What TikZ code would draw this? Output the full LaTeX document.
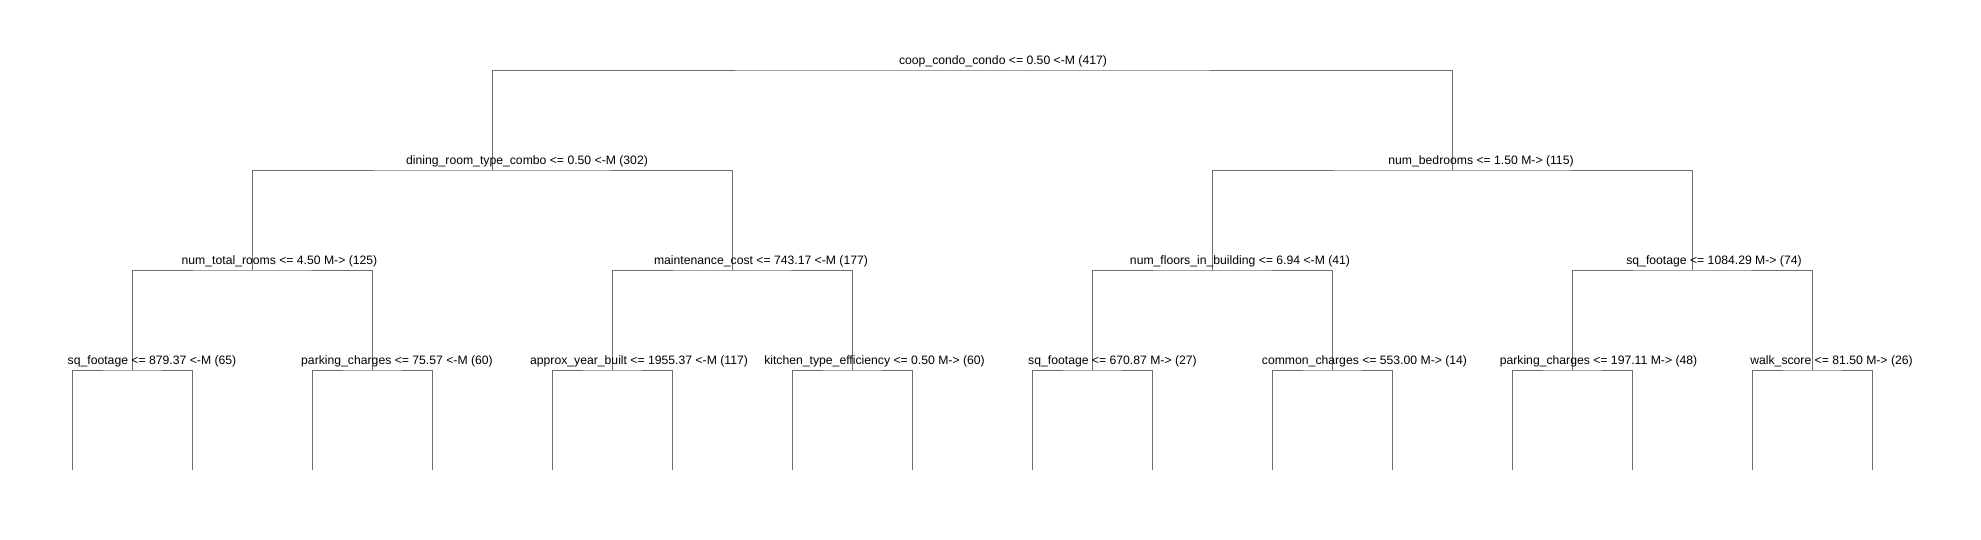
\documentclass[tikz,border=0pt]{standalone}
\usepackage{fontspec}
\setmainfont{Liberation Sans}
\usetikzlibrary{positioning}

\definecolor{branchgray}{RGB}{110,110,110}

\begin{document}
\begin{tikzpicture}[
  x=1pt, y=-1pt,
  splitlabel/.style={anchor=base, yshift=5.5pt, inner sep=0pt, font=\fontsize{12.2}{14}\selectfont},
  branch/.style={draw=branchgray, line width=0.9pt}
]
\useasboundingbox (0,0) rectangle (1981,540);

% Split points
\coordinate (root) at (972,70);
\coordinate (dining) at (492,170);
\coordinate (bedrooms) at (1452,170);
\coordinate (rooms) at (252,270);
\coordinate (maint) at (732,270);
\coordinate (floors) at (1212,270);
\coordinate (sqftC) at (1692,270);
\coordinate (sqftA) at (132,370);
\coordinate (parkA) at (372,370);
\coordinate (year) at (612,370);
\coordinate (kitchen) at (852,370);
\coordinate (sqftB) at (1092,370);
\coordinate (common) at (1332,370);
\coordinate (parkB) at (1572,370);
\coordinate (walk) at (1812,370);

% Leaf ends
\coordinate (leaf1) at (72,470);
\coordinate (leaf2) at (192,470);
\coordinate (leaf3) at (312,470);
\coordinate (leaf4) at (432,470);
\coordinate (leaf5) at (552,470);
\coordinate (leaf6) at (672,470);
\coordinate (leaf7) at (792,470);
\coordinate (leaf8) at (912,470);
\coordinate (leaf9) at (1032,470);
\coordinate (leaf10) at (1152,470);
\coordinate (leaf11) at (1272,470);
\coordinate (leaf12) at (1392,470);
\coordinate (leaf13) at (1512,470);
\coordinate (leaf14) at (1632,470);
\coordinate (leaf15) at (1752,470);
\coordinate (leaf16) at (1872,470);

% Branches
\draw[branch] (dining) |- (root) -| (bedrooms);
\draw[branch] (rooms) |- (dining) -| (maint);
\draw[branch] (floors) |- (bedrooms) -| (sqftC);
\draw[branch] (sqftA) |- (rooms) -| (parkA);
\draw[branch] (year) |- (maint) -| (kitchen);
\draw[branch] (sqftB) |- (floors) -| (common);
\draw[branch] (parkB) |- (sqftC) -| (walk);
\draw[branch] (leaf1) |- (sqftA) -| (leaf2);
\draw[branch] (leaf3) |- (parkA) -| (leaf4);
\draw[branch] (leaf5) |- (year) -| (leaf6);
\draw[branch] (leaf7) |- (kitchen) -| (leaf8);
\draw[branch] (leaf9) |- (sqftB) -| (leaf10);
\draw[branch] (leaf11) |- (common) -| (leaf12);
\draw[branch] (leaf13) |- (parkB) -| (leaf14);
\draw[branch] (leaf15) |- (walk) -| (leaf16);

% Split labels
\node[splitlabel, xshift=31pt] (rootlabel) at (root) {coop\_condo\_condo <= 0.50 <-M (417)};
\node[splitlabel, xshift=35pt] (dininglabel) at (dining) {dining\_room\_type\_combo <= 0.50 <-M (302)};
\node[splitlabel, xshift=29pt] (bedroomslabel) at (bedrooms) {num\_bedrooms <= 1.50 M-> (115)};
\node[splitlabel, xshift=27.5pt] (roomslabel) at (rooms) {num\_total\_rooms <= 4.50 M-> (125)};
\node[splitlabel, xshift=29pt] (maintlabel) at (maint) {maintenance\_cost <= 743.17 <-M (177)};
\node[splitlabel, xshift=28pt] (floorslabel) at (floors) {num\_floors\_in\_building <= 6.94 <-M (41)};
\node[splitlabel, xshift=22pt] (sqftClabel) at (sqftC) {sq\_footage <= 1084.29 M-> (74)};
\node[splitlabel, xshift=20pt] (sqftAlabel) at (sqftA) {sq\_footage <= 879.37 <-M (65)};
\node[splitlabel, xshift=25pt] (parkAlabel) at (parkA) {parking\_charges <= 75.57 <-M (60)};
\node[splitlabel, xshift=27pt] (yearlabel) at (year) {approx\_year\_built <= 1955.37 <-M (117)};
\node[splitlabel, xshift=22.5pt] (kitchenlabel) at (kitchen) {kitchen\_type\_efficiency <= 0.50 M-> (60)};
\node[splitlabel, xshift=20.5pt] (sqftBlabel) at (sqftB) {sq\_footage <= 670.87 M-> (27)};
\node[splitlabel, xshift=32.5pt] (commonlabel) at (common) {common\_charges <= 553.00 M-> (14)};
\node[splitlabel, xshift=26.5pt] (parkBlabel) at (parkB) {parking\_charges <= 197.11 M-> (48)};
\node[splitlabel, xshift=19.5pt] (walklabel) at (walk) {walk\_score <= 81.50 M-> (26)};

\end{tikzpicture}
\end{document}
